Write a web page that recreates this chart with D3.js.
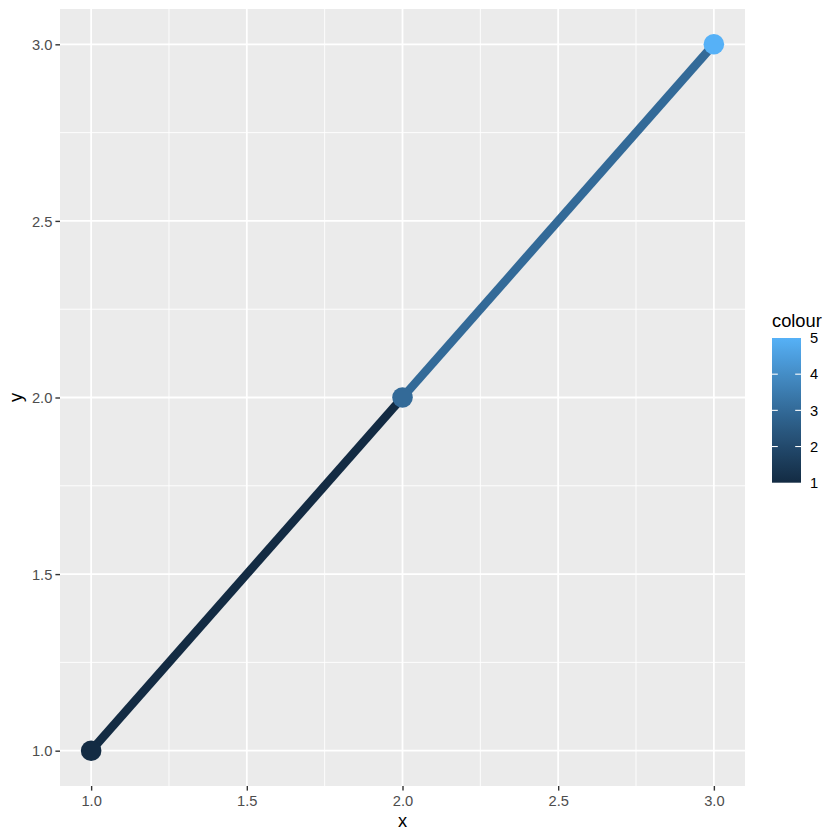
<!DOCTYPE html>
<html><head><meta charset="utf-8">
<script src="https://cdn.jsdelivr.net/npm/d3@7"></script>
<style>body{margin:0;background:#fff}svg{display:block}text{font-family:"Liberation Sans",Arial,sans-serif}</style>
</head><body><svg id="c" width="840" height="840"></svg>
<script>
const xs = [1, 2, 3];
const ys = [1, 2, 3];
const colours = [1, 3, 5];
const xTicks = [1.0, 1.5, 2.0, 2.5, 3.0];
const yTicks = [1.0, 1.5, 2.0, 2.5, 3.0];
const xMinor = [1.25, 1.75, 2.25, 2.75];
const yMinor = [1.25, 1.75, 2.25, 2.75];
const legendTicks = [1, 2, 3, 4, 5];

const svg = d3.select("#c");
const L = 60, R = 745, T = 9, B = 786;
const x = d3.scaleLinear().domain([0.9, 3.1]).range([L, R]);
const y = d3.scaleLinear().domain([0.9, 3.1]).range([B, T]);
const col = d3.scaleLinear().domain([1, 5]).range(["#132B43", "#56B1F7"]).interpolate(d3.interpolateLab);

svg.append("rect").attr("x", L).attr("y", T).attr("width", R - L).attr("height", B - T).attr("fill", "#EBEBEB");
const g = svg.append("g");
xMinor.forEach(v => g.append("line").attr("x1", x(v)).attr("x2", x(v)).attr("y1", T).attr("y2", B).attr("stroke", "#fff").attr("stroke-width", 0.9));
yMinor.forEach(v => g.append("line").attr("y1", y(v)).attr("y2", y(v)).attr("x1", L).attr("x2", R).attr("stroke", "#fff").attr("stroke-width", 0.9));
xTicks.forEach(v => g.append("line").attr("x1", x(v)).attr("x2", x(v)).attr("y1", T).attr("y2", B).attr("stroke", "#fff").attr("stroke-width", 1.8));
yTicks.forEach(v => g.append("line").attr("y1", y(v)).attr("y2", y(v)).attr("x1", L).attr("x2", R).attr("stroke", "#fff").attr("stroke-width", 1.8));

// axes
const xa = svg.append("g").attr("transform", `translate(0,${B})`)
  .call(d3.axisBottom(x).tickValues(xTicks).tickFormat(d3.format(".1f")).tickSize(4.6).tickPadding(3));
const ya = svg.append("g").attr("transform", `translate(${L},0)`)
  .call(d3.axisLeft(y).tickValues(yTicks).tickFormat(d3.format(".1f")).tickSize(4.6).tickPadding(3));
[xa, ya].forEach(a => {
  a.select(".domain").remove();
  a.attr("font-size", null).attr("font-family", null);
  a.selectAll("line").attr("stroke", "#333").attr("stroke-width", 1.4);
  a.selectAll("text").attr("fill", "#4D4D4D").style("font-size", "14.7px");
});
xa.selectAll("text").attr("y", 19.7).attr("dy", 0);
ya.selectAll("text").attr("x", -7.7).attr("dy", "0.36em");

// segments
for (let i = 0; i < xs.length - 1; i++) {
  svg.append("line").attr("x1", x(xs[i])).attr("y1", y(ys[i])).attr("x2", x(xs[i+1])).attr("y2", y(ys[i+1]))
    .attr("stroke", col(colours[i])).attr("stroke-width", 8.5).attr("stroke-linecap", "butt");
}
svg.selectAll("circle.pt").data(xs).join("circle").attr("class", "pt")
  .attr("cx", (d, i) => x(xs[i])).attr("cy", (d, i) => y(ys[i])).attr("r", 10.3)
  .attr("fill", (d, i) => col(colours[i]));

// axis titles
svg.append("text").attr("x", (L + R) / 2).attr("y", 827).attr("text-anchor", "middle").style("font-size", "18.3px").text("x");
svg.append("text").attr("transform", `translate(22,${(T + B) / 2}) rotate(-90)`).attr("text-anchor", "middle").style("font-size", "18.3px").text("y");

// legend
const lx = 772, ltop = 338, lbot = 482.7, lw = 29;
const ly = d3.scaleLinear().domain([1, 5]).range([lbot, ltop]);
const defs = svg.append("defs");
const grad = defs.append("linearGradient").attr("id", "gr").attr("x1", 0).attr("y1", 1).attr("x2", 0).attr("y2", 0);
d3.range(0, 21).forEach(i => {
  const v = 1 + i * 4 / 20;
  grad.append("stop").attr("offset", i / 20).attr("stop-color", col(v));
});
svg.append("rect").attr("x", lx).attr("y", ltop).attr("width", lw).attr("height", lbot - ltop).attr("fill", "url(#gr)");
legendTicks.forEach(v => {
  if (v !== 1 && v !== 5) {
    svg.append("line").attr("x1", lx).attr("x2", lx + 5.8).attr("y1", ly(v)).attr("y2", ly(v)).attr("stroke", "#fff").attr("stroke-width", 1.1);
    svg.append("line").attr("x1", lx + lw - 5.8).attr("x2", lx + lw).attr("y1", ly(v)).attr("y2", ly(v)).attr("stroke", "#fff").attr("stroke-width", 1.1);
  }
  svg.append("text").attr("x", 810).attr("y", ly(v)).attr("dy", "0.36em").style("font-size", "14.7px").attr("fill", "#000").text(v);
});
svg.append("text").attr("x", 772).attr("y", 327).style("font-size", "18.3px").text("colour");
</script></body></html>
